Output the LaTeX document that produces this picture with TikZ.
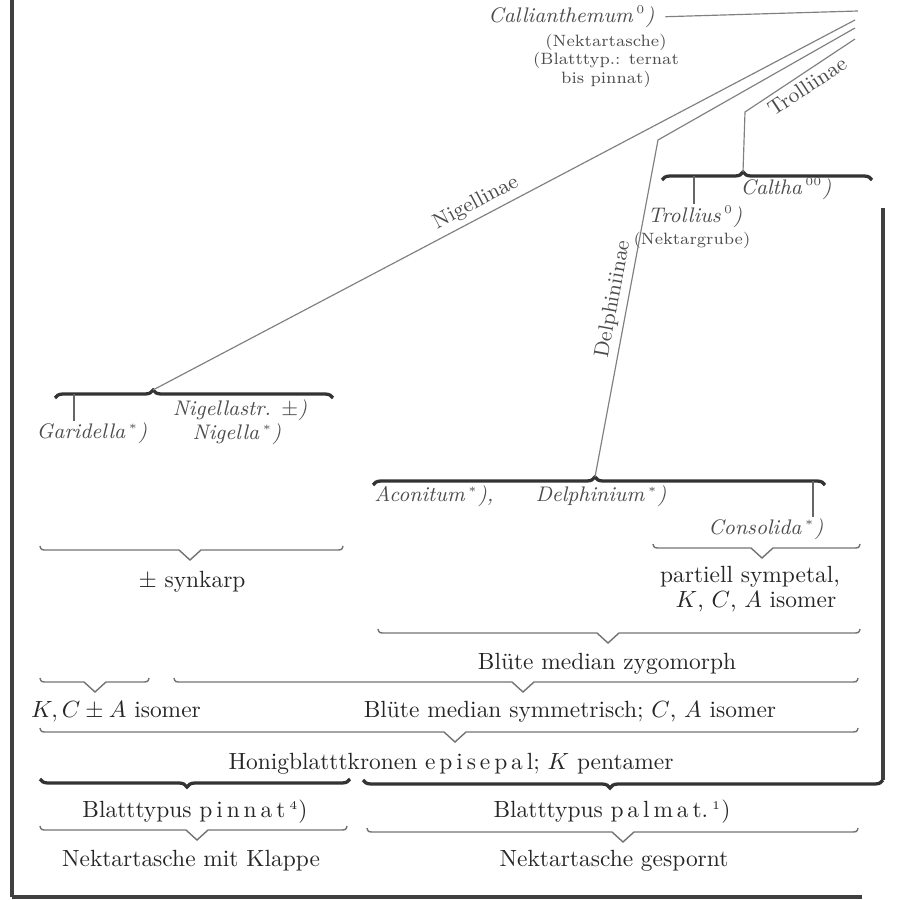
\documentclass[tikz,border=0pt]{standalone}
\usepackage{amsmath}
\usepackage{tikz}
\usetikzlibrary{decorations.pathreplacing}

\begin{document}
\begin{tikzpicture}[x=0.015cm, y=-0.015cm,
	taxon/.style={font=\small\itshape, text=black!70, inner sep=0.5pt},
	note/.style={font=\scriptsize, text=black!70, inner sep=0.5pt},
	trait/.style={text=black!85, inner sep=1pt},
	group/.style={font=\small, text=black!70, inner sep=2pt},
	branch/.style={draw=black!50, line width=0.5pt},
	tick/.style={draw=black!60, line width=0.5pt},
	bigbrace/.style={draw=black!80, line width=1.4pt, decorate, decoration={brace, amplitude=0.12cm, aspect=#1}},
	thinbrace/.style={draw=black!55, line width=0.6pt},
	frame/.style={draw=black!75, line width=1.8pt}]

	\useasboundingbox (0,0) rectangle (913,900);

	% frame
	\draw[frame] (12,0) -- (12,897);
	\draw[frame, line width=1.3pt] (12,897) -- (862,897);

	% top of the tree
	\node[taxon, anchor=east] (calli) at (656,17) {Callianthemum\,$^{\scriptscriptstyle 0}$)};
	\node[note] (calnek) at (606,42) {(Nektartasche)};
	\node[note, align=center] (calblatt) at (606,70) {(Blatttyp.: ternat\\bis pinnat)};

	\coordinate (calroot) at (858,11);
	\coordinate (nigroot) at (855,20);
	\coordinate (delroot) at (855,28);
	\coordinate (troroot) at (855,39);
	\coordinate (delkink) at (658,140);
	\coordinate (trokink) at (745,112);
	\coordinate (nigtip) at (153,390);
	\coordinate (deltip) at (595,477);
	\coordinate (caltip) at (743,172);
	\coordinate (rtop) at (883,208);

	% Trolliinae
	\draw[bigbrace=0.386] (662,180) -- (872,180);
	\node[taxon] (trollius) at (695,217) {Trollius\,$^{\scriptscriptstyle 0}$)};
	\node[note] (nektargrube) at (692,240) {(Nektargrube)};
	\node[taxon] (caltha) at (786,189) {Caltha\,$^{\scriptscriptstyle 00}$)};
	\coordinate (trobr) at (694,176);
	\draw[tick] (trobr) -- (trobr |- trollius.north);

	% Nigellinae
	\draw[bigbrace=0.353] (55,398) -- (333,398);
	\node[taxon] (gari) at (92,433) {Garidella\,$^{\scriptscriptstyle *}$)};
	\node[taxon] (nigastr) at (240,410) {Nigellastr. $\pm$)};
	\node[taxon] (nigella) at (237,434) {Nigella\,$^{\scriptscriptstyle *}$)};
	\coordinate (garbr) at (74,394);
	\draw[tick] (garbr) -- (garbr |- gari.north);

	% Delphiniinae
	\draw[bigbrace=0.491] (373,485) -- (825,485);
	\node[taxon] (aconitum) at (434,496) {Aconitum\,$^{\scriptscriptstyle *}$),};
	\node[taxon] (delphinium) at (601,496) {Delphinium\,$^{\scriptscriptstyle *}$)};
	\node[taxon] (consolida) at (766,529) {Consolida\,$^{\scriptscriptstyle *}$)};
	\coordinate (conbr) at (813,481);
	\draw[tick] (conbr) -- (conbr |- consolida.north);

	% branches
	\draw[branch, shorten <=4pt] (calli.east) -- (calroot);
	\draw[branch] (nigtip) -- node[group, sloped, above, pos=0.47] (nigl) {Nigellinae} (nigroot);
	\draw[branch] (deltip) -- node[group, sloped, above, pos=0.52] (dell) {Delphiniinae} (delkink) -- (delroot);
	\draw[branch] (caltip) -- (trokink) -- node[group, sloped, below, pos=0.5] (trol) {Trolliinae} (troroot);
	\draw[frame, line width=1.3pt] (rtop) -- (883,780);

	% characters
	\foreach \xa/\xb/\xt/\yy in {40/343/190/550, 653/860/762/548, 378/860/608/633, 40/149/95/682,
		174/858/523/682, 40/858/455/732, 40/347/197/830, 367/858/623/832}
		\draw[thinbrace] (\xa,\yy-4) .. controls (\xa+1,\yy) .. (\xa+8,\yy) -- (\xt-11,\yy) -- (\xt,\yy+10)
			-- (\xt+11,\yy) -- (\xb-8,\yy) .. controls (\xb-1,\yy) .. (\xb,\yy-4);
	\draw[bigbrace=0.526] (350,779) -- (40,779);
	\draw[bigbrace=0.525] (883,780) -- (363,780);

	\node[trait] (synkarp) at (192,582) {$\pm$ synkarp};
	\node[trait] (sympetal) at (750,577) {partiell sympetal,};
	\node[trait] (isomer) at (756,602) {$K$, $C$, $A$ isomer};
	\node[trait] (zygo) at (607,664) {Blüte median zygomorph};
	\node[trait] (kca) at (116,712) {$K, C \pm A$ isomer};
	\node[trait] (symm) at (570,712) {Blüte median symmetrisch; $C$, $A$ isomer};
	\node[trait] (honig) at (451,764) {Honigblatttkronen e\,p\,i\,s\,e\,p\,a\,l; $K$ pentamer};
	\node[trait] (pinnat) at (195,812) {Blatttypus p\,i\,n\,n\,a\,t\,$^{\scriptscriptstyle 4}$)};
	\node[trait] (palmat) at (612,812) {Blatttypus p\,a\,l\,m\,a\,t.\,$^{\scriptscriptstyle 1}$)};
	\node[trait] (klappe) at (191,861) {Nektartasche mit Klappe};
	\node[trait] (gespornt) at (614,861) {Nektartasche gespornt};

\end{tikzpicture}
\end{document}
